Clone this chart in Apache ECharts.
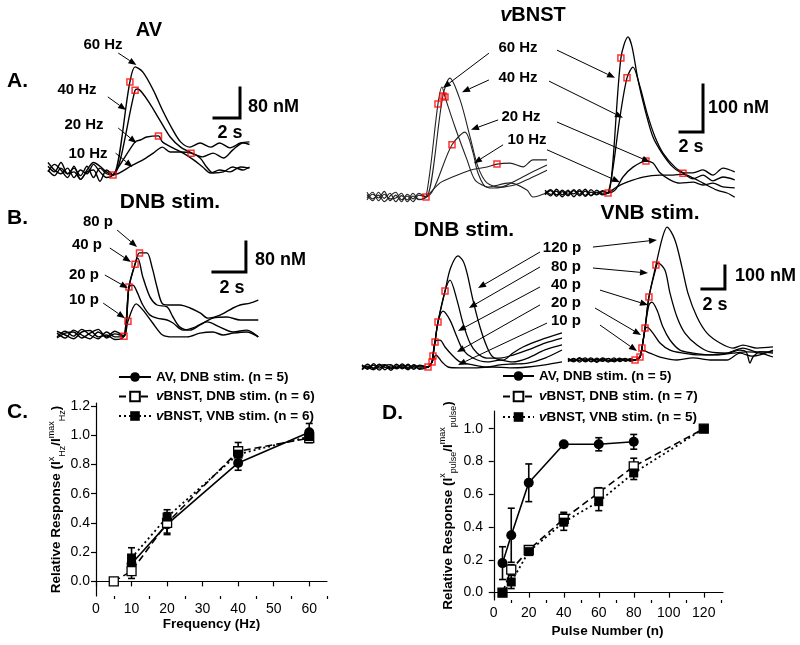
<!DOCTYPE html>
<html><head><meta charset="utf-8">
<script src="https://cdn.jsdelivr.net/npm/echarts@6/dist/echarts.min.js"></script>
<style>html,body{margin:0;padding:0;background:#fff}#c{width:800px;height:645px}</style>
</head><body><div id="c"></div>
<script>
// ---------------- Panel C (frequency) ----------------
const freqAV_C = [10, 20, 40, 60];
const respAV_C = [0.12, 0.39, 0.81, 1.02];
const errAV_C = [0.05, 0.07, 0.05, 0.06];
const freqDNB_C = [5, 10, 20, 40, 60];
const respDNB_C = [0.0, 0.07, 0.40, 0.89, 0.98];
const errDNB_C = [0, 0.05, 0.07, 0.06, 0.03];
const freqVNB_C = [10, 20, 40, 60];
const respVNB_C = [0.16, 0.44, 0.87, 0.99];
const errVNB_C = [0.07, 0.05, 0.05, 0.04];
// ---------------- Panel D (pulse number) ----------------
const pulsesAV_D = [5, 10, 20, 40, 60, 80];
const respAV_D = [0.18, 0.35, 0.67, 0.905, 0.905, 0.92];
const errAV_D = [0.10, 0.165, 0.115, 0.015, 0.04, 0.045];
const pulsesB_D = [5, 10, 20, 40, 60, 80, 120];
const respDNB_D = [0, 0.14, 0.26, 0.45, 0.61, 0.77, 1.0];
const errDNB_D = [0, 0.03, 0.02, 0.04, 0.03, 0.05, 0];
const respVNB_D = [0, 0.065, 0.25, 0.43, 0.555, 0.73, 1.0];
const errVNB_D = [0, 0.04, 0.02, 0.05, 0.055, 0.04, 0];
// ---------------- tick labels ----------------
const ticksFreq = [0, 10, 20, 30, 40, 50, 60];
const minorFreq = [5, 15, 25, 35, 45, 55, 65];
const ticksPulse = [0, 20, 40, 60, 80, 100, 120];
const minorPulse = [10, 30, 50, 70, 90, 110, 130];
const ticksRespC = [0, 0.2, 0.4, 0.6, 0.8, 1.0, 1.2];
const ticksRespD = [0, 0.2, 0.4, 0.6, 0.8, 1.0];
// series names
const nameAV = 'AV, DNB stim. (n = 5)';
const nameDNB_C = 'vBNST, DNB stim. (n = 6)';
const nameVNB_C = 'vBNST, VNB stim. (n = 6)';
const nameDNB_D = 'vBNST, DNB stim. (n = 7)';
const nameVNB_D = 'vBNST, VNB stim. (n = 5)';

// ---------------- traces [time s, dopamine nM] ----------------
// A. AV, frequency
const avHz60 = [[0,10],[0.5,-5],[1,20],[1.5,-10],[2,5],[2.5,-15],[3,10],[3.5,-20],[4,5],[4.5,-10],[5,-13],[6.3,235],[6.7,275],[7.3,261],[8.1,213],[8.8,160],[9.6,107],[10.2,75],[10.9,61],[11.7,72],[12.5,61],[13.2,72],[14,59],[14.8,72],[15.5,75]];
const avHz40 = [[0,-5],[0.5,15],[1,0],[1.5,-20],[2,10],[2.5,-25],[3,-5],[3.5,0],[4,-30],[4.5,0],[5,-13],[6.7,213],[6.9,216],[7.2,208],[7.8,179],[8.6,133],[9.4,88],[10.2,61],[11.1,45],[11.9,35],[12.7,45],[13.5,32],[14.2,53],[15,72],[15.5,68]];
const avHz20 = [[0,20],[0.5,0],[1,-10],[1.5,5],[2,-20],[2.5,0],[3,-10],[3.5,15],[4,-5],[4.5,-20],[5,-13],[6.7,75],[7.1,80],[7.6,88],[8.5,91],[8.8,75],[9.6,59],[10.4,45],[11.2,27],[11.9,8],[12.5,-8],[13.2,0],[14,-5],[14.8,8],[15.5,5]];
const avHz10 = [[0,0],[0.5,-15],[1,5],[1.5,-10],[2,-5],[2.5,-25],[3,0],[3.5,20],[4,10],[4.5,-5],[5,-13],[6.5,13],[7.3,27],[8.1,45],[8.8,61],[9.4,48],[10.2,48],[11,45],[11.7,32],[12.2,8],[12.7,-8],[13.5,-5],[14.2,8],[15,0],[15.5,8]];
const avHzRed = [[5,-13],[6.3,235],[6.7,213],[8.5,91],[11,45]];
// B. AV, pulses
const avP80 = [[0,5],[0.5,-8],[1,13],[1.5,0],[2,-10],[2.5,8],[3,-5],[3.5,10],[4.06,-3],[4.36,128],[4.73,189],[5.0,219],[5.45,219],[5.76,181],[6.06,128],[6.36,85],[6.73,80],[7.45,80],[8.06,72],[8.67,59],[9.15,45],[9.88,53],[10.67,72],[11.1,80],[11.7,85],[12.2,93]];
const avP40 = [[0,-5],[0.5,10],[1,-3],[1.5,15],[2,0],[2.5,-10],[3,8],[3.5,-5],[4.06,-3],[4.36,128],[4.73,189],[4.9,205],[5.2,155],[5.64,101],[6.06,80],[6.67,75],[7.03,48],[7.45,21],[8.06,13],[8.67,27],[9.45,45],[10.3,48],[11.1,40],[12.2,40]];
const avP20 = [[0,10],[0.5,0],[1,-10],[1.5,8],[2,12],[2.5,-5],[3,0],[3.5,-12],[4.06,-3],[4.36,128],[4.6,133],[4.85,115],[5.2,80],[5.64,53],[6.06,45],[6.67,40],[7.03,32],[7.64,13],[8.24,19],[9.1,35],[9.88,21],[10.67,8],[11.5,13],[12.2,-5]];
const avP10 = [[0,-8],[0.5,5],[1,8],[1.5,-8],[2,5],[2.5,15],[3,-8],[3.5,3],[4.06,-3],[4.3,37],[4.8,83],[5.2,67],[5.8,32],[6.4,0],[7.03,-5],[7.9,-5],[8.67,5],[9.45,8],[10.06,0],[10.67,5],[11.5,8],[12.2,-5]];
const avPRed = [[4.06,-3],[4.3,37],[4.36,128],[4.73,189],[5.0,219]];
// A. vBNST, frequency, DNB
const bHzD60 = [[0,5],[0.5,-8],[1,10],[1.5,-3],[2,8],[2.5,-10],[3,3],[3.5,-6],[4,8],[4.5,-5],[5.13,0],[6.17,198],[6.52,234],[6.78,213],[7.65,149],[8.7,79],[9.4,36],[10.43,21],[10.96,19],[11.8,21],[12.9,26],[14.2,40],[15.65,57]];
const bHzD40 = [[0,-6],[0.5,6],[1,-2],[1.5,12],[2,-8],[2.5,4],[3,-10],[3.5,6],[4,-4],[4.5,8],[5.13,0],[6.6,215],[7.2,253],[8.1,206],[8.96,128],[9.65,64],[10.43,30],[11.57,21],[13.04,36],[14.2,51],[15.65,68]];
const bHzD20 = [[0,10],[0.5,-4],[1,4],[1.5,-10],[2,2],[2.5,10],[3,-6],[3.5,2],[4,-10],[4.5,4],[5.13,0],[7.39,111],[8.52,138],[9.22,94],[9.65,51],[10.43,21],[12.43,30],[13.9,15],[14.43,0],[15.65,9]];
const bHzD10 = [[0,-2],[0.5,10],[1,-8],[1.5,6],[2,-4],[2.5,-2],[3,8],[3.5,-10],[4,2],[4.5,-6],[5.13,0],[6.35,30],[7.48,43],[8.96,57],[10.43,64],[11.3,70],[12.43,72],[13.57,64],[14.43,79],[15.65,79]];
const bHzDRed = [[5.13,0],[6.17,198],[6.6,215],[6.78,213],[7.39,111],[11.3,70]];
// A. vBNST, frequency, VNB
const bHzV60 = [[0,3],[0.5,-6],[1,8],[1.5,-4],[2,6],[2.5,-8],[3,4],[3.5,-5],[4,7],[4.5,-3],[5,5],[5.48,0],[6.6,287],[7.22,332],[7.57,311],[8.09,240],[8.7,177],[9.39,119],[10.17,85],[11.13,55],[12,43],[12.87,43],[13.74,49],[14.6,38],[15.48,53],[16.5,45]];
const bHzV40 = [[0,-4],[0.5,5],[1,-7],[1.5,6],[2,-3],[2.5,7],[3,-6],[3.5,4],[4,-5],[4.5,6],[5,-2],[5.48,0],[6.52,162],[7.13,245],[7.65,268],[8.26,226],[8.87,170],[9.57,119],[10.26,85],[11.3,55],[12,43],[12.87,30],[13.74,38],[14.6,26],[15.48,34],[16.5,28]];
const bHzV20 = [[0,6],[0.5,-3],[1,4],[1.5,-8],[2,3],[2.5,-2],[3,7],[3.5,-7],[4,2],[4.5,-4],[5,3],[5.48,0],[6.09,6],[6.78,34],[7.65,55],[8.78,68],[9.39,64],[10,43],[10.87,28],[11.74,21],[12.87,23],[13.74,17],[14.6,21],[15.48,13],[16.5,11]];
const bHzV10 = [[0,-2],[0.5,7],[1,-4],[1.5,3],[2,-6],[2.5,5],[3,-3],[3.5,8],[4,-6],[4.5,2],[5,-4],[5.48,0],[6.26,13],[7.13,23],[8.52,34],[10,38],[11.13,38],[12,40],[12.87,32],[13.74,21],[14.96,6],[15.83,0],[16.5,-9]];
const bHzVRed = [[5.48,0],[6.6,287],[7.13,245],[8.78,68],[12,42]];
// B. vBNST, pulses, DNB
const bPD120 = [[0,10],[0.5,-10],[1,15],[1.5,-5],[2,8],[2.5,-15],[3,5],[3.5,-8],[4,12],[4.5,-5],[5,6],[5.74,0],[6.09,22],[6.17,48],[6.35,109],[6.61,196],[7.22,330],[7.7,430],[8.35,483],[8.8,460],[9.13,409],[9.65,291],[10.26,174],[10.87,87],[11.39,43],[12.26,30],[13.13,61],[14,87],[15.48,117],[17.39,148]];
const bPD80 = [[0,-8],[0.5,12],[1,-5],[1.5,10],[2,-12],[2.5,5],[3,-6],[3.5,14],[4,-4],[4.5,8],[5,-10],[5.74,0],[6.09,22],[6.17,48],[6.35,109],[6.61,196],[7.22,330],[7.65,378],[8.26,291],[8.78,191],[9.39,104],[10,61],[10.87,39],[12,39],[13.13,52],[14.43,74],[15.91,104],[17.39,126]];
const bPD40 = [[0,4],[0.5,-6],[1,8],[1.5,-14],[2,6],[2.5,10],[3,-8],[3.5,2],[4,-12],[4.5,10],[5,0],[5.74,0],[6.09,22],[6.17,48],[6.35,109],[6.61,196],[7.04,243],[7.65,204],[8.26,130],[8.78,74],[9.65,39],[10.87,22],[12,30],[13.13,22],[14.43,39],[15.91,74],[17.39,96]];
const bPD20 = [[0,-12],[0.5,4],[1,-6],[1.5,12],[2,-2],[2.5,-8],[3,12],[3.5,-4],[4,6],[4.5,-10],[5,8],[5.74,0],[6.09,22],[6.17,48],[6.35,109],[6.78,117],[7.22,87],[7.83,52],[8.52,22],[9.65,9],[10.87,0],[12,9],[13.13,13],[14.43,17],[15.91,39],[17.39,74]];
const bPD10 = [[0,6],[0.5,-2],[1,-12],[1.5,4],[2,10],[2.5,-4],[3,-2],[3.5,8],[4,-8],[4.5,2],[5,-6],[5.74,0],[6.09,22],[6.43,52],[6.96,22],[7.48,0],[8.52,-4],[10,-4],[11.39,0],[12.87,-4],[14.43,0],[15.91,9],[17.39,22]];
const bPDRed = [[5.74,0],[6.09,22],[6.17,48],[6.35,109],[6.61,196],[7.22,330]];
// B. vBNST, pulses, VNB
const bPV120 = [[0,8],[0.5,-6],[1,10],[1.5,-8],[2,5],[2.5,-10],[3,6],[3.5,-5],[4,9],[4.5,-7],[5,4],[5.4,-4],[5.83,0],[6.26,13],[6.43,52],[6.7,139],[7.04,274],[7.65,413],[8.2,530],[8.61,578],[9.3,522],[9.91,404],[10.43,291],[11.22,187],[12.09,117],[13.22,74],[14.35,52],[15.22,65],[16.43,52],[17.83,57]];
const bPV80 = [[0,-5],[0.5,7],[1,-9],[1.5,4],[2,-6],[2.5,8],[3,-4],[3.5,6],[4,-8],[4.5,5],[5,-3],[5.4,6],[5.83,0],[6.26,13],[6.43,52],[6.7,139],[7.04,274],[7.65,400],[7.83,422],[8.43,391],[8.87,291],[9.48,187],[10.17,117],[11.22,65],[12.35,35],[13.83,30],[14.96,43],[15.5,35],[15.83,-13],[16.09,13],[16.7,35],[17.83,30]];
const bPV40 = [[0,3],[0.5,-8],[1,6],[1.5,-3],[2,9],[2.5,-5],[3,2],[3.5,-9],[4,4],[4.5,-2],[5,7],[5.4,-5],[5.83,0],[6.26,13],[6.43,52],[6.7,139],[7.04,239],[7.3,252],[7.74,217],[8.26,143],[8.87,87],[9.74,43],[10.87,30],[12.35,22],[13.83,30],[15.22,52],[16.43,35],[17.83,35]];
const bPV20 = [[0,-7],[0.5,4],[1,-2],[1.5,9],[2,-8],[2.5,3],[3,-6],[3.5,7],[4,-3],[4.5,8],[5,-6],[5.4,3],[5.83,0],[6.26,13],[6.43,52],[6.7,130],[6.87,143],[7.39,117],[8,74],[8.87,43],[10,30],[11.48,22],[12.96,22],[14.35,30],[15.57,35],[16.7,30],[17.83,13]];
const bPV10 = [[0,5],[0.5,-3],[1,7],[1.5,-6],[2,2],[2.5,-7],[3,9],[3.5,-2],[4,-6],[4.5,3],[5,5],[5.4,-2],[5.83,0],[6.26,13],[6.43,43],[7.13,30],[8,13],[9.48,0],[10.87,9],[12.35,0],[13.83,0],[14.96,30],[16,17],[16.7,22],[17.83,43]];
const bPVRed = [[5.83,0],[6.26,13],[6.43,52],[6.7,139],[7.04,274],[7.65,413]];
// scale bars (2 s horizontal, nM vertical)
const scaleAVHz = [[12.77,139],[14.77,139],[14.77,219]];   // 2 s / 80 nM
const scaleAVP = [[9.45,168],[11.45,168],[11.45,248]];     // 2 s / 80 nM
const scaleBHz = [[11.74,130],[13.74,130],[13.74,230]];    // 2 s / 100 nM
const scaleBP = [[11.65,309],[13.65,309],[13.65,409]];     // 2 s / 100 nM

// ================= build =================
const FONT = '"Liberation Sans", Arial, Helvetica, sans-serif';
const zip = (xs, ys) => xs.map((x, i) => [x, ys[i]]);

function errSeries(xs, ys, es, xi, yi) {
  return {
    type: 'custom', xAxisIndex: xi, yAxisIndex: yi, silent: true, z: 2,
    data: xs.map((x, i) => [x, ys[i] - es[i], ys[i] + es[i]]),
    renderItem(params, api) {
      const lo = api.coord([api.value(0), api.value(1)]);
      const hi = api.coord([api.value(0), api.value(2)]);
      const w = 3.5, st = {stroke: '#000', lineWidth: 1.6};
      return {type: 'group', children: [
        {type: 'line', shape: {x1: lo[0], y1: lo[1], x2: hi[0], y2: hi[1]}, style: st},
        {type: 'line', shape: {x1: lo[0] - w, y1: lo[1], x2: lo[0] + w, y2: lo[1]}, style: st},
        {type: 'line', shape: {x1: hi[0] - w, y1: hi[1], x2: hi[0] + w, y2: hi[1]}, style: st}
      ]};
    }
  };
}
// annotation arrows: label tail -> trace head, in each trace panel's own units
function arrows(list, g) {
  return {
    type: 'custom', xAxisIndex: g + 2, yAxisIndex: g, silent: true, z: 7,
    data: list.map(a => [a[0][0], a[0][1], a[1][0], a[1][1]]),
    renderItem(params, api) {
      const p1 = api.coord([api.value(0), api.value(1)]);
      const p2 = api.coord([api.value(2), api.value(3)]);
      const dx = p2[0] - p1[0], dy = p2[1] - p1[1], L = Math.hypot(dx, dy) || 1;
      const ux = dx / L, uy = dy / L, hl = 8, hw = 3.2;
      const bx = p2[0] - ux * hl, by = p2[1] - uy * hl;
      return {type: 'group', children: [
        {type: 'line', shape: {x1: p1[0], y1: p1[1], x2: bx, y2: by}, style: {stroke: '#000', lineWidth: 1}},
        {type: 'polygon', shape: {points: [[p2[0], p2[1]], [bx - uy * hw, by + ux * hw], [bx + uy * hw, by - ux * hw]]}, style: {fill: '#000'}}
      ]};
    }
  };
}
const STY = {
  av: {symbol: 'circle', symbolSize: 10, itemStyle: {color: '#000'}, lineStyle: {color: '#000', width: 1.6, type: 'solid'}},
  dnb: {symbol: 'rect', symbolSize: 9, itemStyle: {color: '#fff', borderColor: '#000', borderWidth: 1.3}, lineStyle: {color: '#000', width: 1.6, type: [7, 4]}},
  vnb: {symbol: 'rect', symbolSize: 9, itemStyle: {color: '#000'}, lineStyle: {color: '#000', width: 1.8, type: [2, 3]}}
};
function meanSeries(name, xs, ys, sty, xi, yi) {
  return Object.assign({type: 'line', name, xAxisIndex: xi, yAxisIndex: yi, data: zip(xs, ys), showSymbol: true, z: 4, silent: true}, JSON.parse(JSON.stringify(sty)));
}
function trace(name, data, g, width, color) {
  return {type: 'line', name, xAxisIndex: g + 2, yAxisIndex: g, data, symbol: 'none', smooth: 0.3,
    lineStyle: {color: color || '#000', width: width || 1.3}, silent: true, z: 3};
}
function red(data, g) {
  return {type: 'scatter', xAxisIndex: g + 2, yAxisIndex: g, data, symbol: 'rect', symbolSize: 6, silent: true, z: 6,
    itemStyle: {color: 'rgba(255,255,255,0)', borderColor: '#f00', borderWidth: 1.5}};
}
function bar(data, g) {
  return {type: 'line', xAxisIndex: g + 2, yAxisIndex: g, data, symbol: 'none', silent: true, z: 5,
    lineStyle: {color: '#000', width: 3, cap: 'square', join: 'miter'}};
}
function txt(text, x, y, size, align, rich) {
  return {type: 'text', x, y, z: 10, silent: true, style: {text, fontFamily: FONT, fontWeight: 'bold', fontSize: size,
    fill: '#000', align: align || 'center', verticalAlign: 'middle', rich: rich}};
}
const richV = s => ({i: {fontStyle: 'italic', fontWeight: 'bold', fontSize: s, fontFamily: FONT, fill: '#000'}});

// grids: 0 C, 1 D, 2 AV Hz, 3 AV pulses, 4 vBNST Hz DNB, 5 vBNST Hz VNB, 6 vBNST pulses DNB, 7 vBNST pulses VNB
const grid = [
  {left: 96, top: 403, width: 231, height: 193},
  {left: 492, top: 411, width: 231, height: 189},
  {left: 48, top: 50, width: 201.5, height: 135},
  {left: 57, top: 222.5, width: 206.25, height: 127.5},
  {left: 367, top: 41.9, width: 180, height: 169.2},
  {left: 545, top: 28.5, width: 189.75, height: 178.6},
  {left: 362, top: 238.2, width: 200.1, height: 138},
  {left: 568, top: 217.4, width: 205, height: 151.8}
];
const traceRanges = [
  [0, 15.5, -40, 320], [0, 12.5, -40, 300], [0, 15.65, -30, 330],
  [0, 16.5, -30, 350], [0, 17.4, -40, 560], [0, 17.83, -40, 620]
];
const axLine = {lineStyle: {color: '#000', width: 1.2}};
const lbl = {color: '#000', fontSize: 14, fontFamily: FONT};
const nameSty = {color: '#000', fontSize: 13.5, fontWeight: 'bold', fontFamily: FONT};
const yNameSty = Object.assign({}, nameSty, {lineHeight: 20, rich: {
  sup: {fontSize: 9, fontWeight: 'normal', verticalAlign: 'top', fontFamily: FONT, color: '#000', lineHeight: 9},
  sub: {fontSize: 9, fontWeight: 'normal', verticalAlign: 'bottom', fontFamily: FONT, color: '#000', lineHeight: 9}}});

const xAxis = [
  {type: 'value', gridIndex: 0, min: 0, max: 65, axisLine: axLine, splitLine: {show: false},
   axisTick: {customValues: ticksFreq, length: 5, lineStyle: {color: '#000', width: 1.2}},
   axisLabel: Object.assign({customValues: ticksFreq, margin: 6}, lbl),
   name: 'Frequency (Hz)', nameLocation: 'middle', nameGap: 18, nameTextStyle: nameSty},
  {type: 'value', gridIndex: 1, min: -1, max: 131, axisLine: axLine, splitLine: {show: false},
   axisTick: {customValues: ticksPulse, length: 5, lineStyle: {color: '#000', width: 1.2}},
   axisLabel: Object.assign({customValues: ticksPulse, margin: 6}, lbl),
   name: 'Pulse Number (n)', nameLocation: 'middle', nameGap: 24, nameTextStyle: nameSty},
  {type: 'value', gridIndex: 0, min: 0, max: 65, position: 'bottom', offset: 0, axisLine: {show: false}, splitLine: {show: false},
   axisLabel: {show: false}, axisTick: {customValues: minorFreq, length: 3, lineStyle: {color: '#000', width: 1.2}}},
  {type: 'value', gridIndex: 1, min: -1, max: 131, position: 'bottom', offset: 0, axisLine: {show: false}, splitLine: {show: false},
   axisLabel: {show: false}, axisTick: {customValues: minorPulse, length: 3, lineStyle: {color: '#000', width: 1.2}}}
];
const yAxis = [
  {type: 'value', gridIndex: 0, min: -0.1, max: 1.22, axisLine: Object.assign({show: true}, axLine), splitLine: {show: false},
   axisTick: {show: true, customValues: ticksRespC, length: 5, lineStyle: {color: '#000', width: 1.2}},
   axisLabel: Object.assign({customValues: ticksRespC, margin: 6, formatter: v => v.toFixed(1)}, lbl),
   name: 'Relative Response (I{sup|x}{sub|Hz}/I{sup|max}{sub|Hz})', nameLocation: 'middle', nameGap: 26, nameTextStyle: yNameSty},
  {type: 'value', gridIndex: 1, min: -0.045, max: 1.108, axisLine: Object.assign({show: true}, axLine), splitLine: {show: false},
   axisTick: {show: true, customValues: ticksRespD, length: 5, lineStyle: {color: '#000', width: 1.2}},
   axisLabel: Object.assign({customValues: ticksRespD, margin: 9, formatter: v => v.toFixed(1)}, lbl),
   name: 'Relative Response (I{sup|x}{sub|pulse}/I{sup|max}{sub|pulse})', nameLocation: 'middle', nameGap: 34, nameTextStyle: yNameSty}
];
traceRanges.forEach((r, i) => {
  xAxis.push({type: 'value', gridIndex: i + 2, min: r[0], max: r[1], show: false});
  yAxis.push({type: 'value', gridIndex: i + 2, min: r[2], max: r[3], show: false});
});

const series = [
  errSeries(freqAV_C, respAV_C, errAV_C, 0, 0),
  errSeries(freqDNB_C, respDNB_C, errDNB_C, 0, 0),
  errSeries(freqVNB_C, respVNB_C, errVNB_C, 0, 0),
  meanSeries(nameAV, freqAV_C, respAV_C, STY.av, 0, 0),
  meanSeries(nameDNB_C, freqDNB_C, respDNB_C, STY.dnb, 0, 0),
  meanSeries(nameVNB_C, freqVNB_C, respVNB_C, STY.vnb, 0, 0),
  errSeries(pulsesAV_D, respAV_D, errAV_D, 1, 1),
  errSeries(pulsesB_D, respDNB_D, errDNB_D, 1, 1),
  errSeries(pulsesB_D, respVNB_D, errVNB_D, 1, 1),
  meanSeries(nameAV, pulsesAV_D, respAV_D, STY.av, 1, 1),
  meanSeries(nameDNB_D, pulsesB_D, respDNB_D, STY.dnb, 1, 1),
  meanSeries(nameVNB_D, pulsesB_D, respVNB_D, STY.vnb, 1, 1),
  // A. AV
  trace('AV 60 Hz', avHz60, 2, 1.4), trace('AV 40 Hz', avHz40, 2, 1.4), trace('AV 20 Hz', avHz20, 2, 1.4), trace('AV 10 Hz', avHz10, 2, 1.4),
  arrows([[[5.4,312],[6.8,280]], [[4.6,195],[6.0,160]], [[5.4,112],[6.8,72]], [[5.2,45],[6.5,8]]], 2),
  red(avHzRed, 2), bar(scaleAVHz, 2),
  // B. AV
  trace('AV 80 p', avP80, 3, 1.4), trace('AV 40 p', avP40, 3, 1.4), trace('AV 20 p', avP20, 3, 1.4), trace('AV 10 p', avP10, 3, 1.4),
  arrows([[[3.64,280],[4.85,235]], [[3.2,232],[4.48,195]], [[2.9,160],[4.3,125]], [[2.8,85],[4.12,45]]], 3),
  red(avPRed, 3), bar(scaleAVP, 3),
  // A. vBNST DNB
  trace('vB 60 Hz D', bHzD60, 4, 1.1, '#222'), trace('vB 40 Hz D', bHzD40, 4, 1.1, '#222'),
  trace('vB 20 Hz D', bHzD20, 4, 1.1, '#222'), trace('vB 10 Hz D', bHzD10, 4, 1.1, '#222'),
  arrows([[[10.6,306],[6.6,232]], [[10.6,249],[8.26,223]], [[11.4,164],[9.04,143]], [[11.83,111],[9.3,72]]], 4),
  red(bHzDRed, 4),
  // A. vBNST VNB
  trace('vB 60 Hz V', bHzV60, 5, 1.3), trace('vB 40 Hz V', bHzV40, 5, 1.3), trace('vB 20 Hz V', bHzV20, 5, 1.3), trace('vB 10 Hz V', bHzV10, 5, 1.3),
  arrows([[[1.04,304],[6.09,245]], [[0.35,238],[6.78,160]], [[1.04,151],[9.13,66]], [[0.17,92],[6.52,23]]], 5),
  red(bHzVRed, 5), bar(scaleBHz, 5),
  // B. vBNST DNB
  trace('vB 120 p D', bPD120, 6, 1.3), trace('vB 80 p D', bPD80, 6, 1.3), trace('vB 40 p D', bPD40, 6, 1.3),
  trace('vB 20 p D', bPD20, 6, 1.3), trace('vB 10 p D', bPD10, 6, 1.3),
  arrows([[[15.48,500],[10.09,343]], [[15.48,435],[9.3,257]], [[15.48,348],[8.35,157]], [[15.48,270],[8.26,65]], [[16.09,191],[8.35,9]]], 6),
  red(bPDRed, 6),
  // B. vBNST VNB
  trace('vB 120 p V', bPV120, 7, 1.3), trace('vB 80 p V', bPV80, 7, 1.3), trace('vB 40 p V', bPV40, 7, 1.3),
  trace('vB 20 p V', bPV20, 7, 1.3), trace('vB 10 p V', bPV10, 7, 1.3),
  arrows([[[2.17,491],[7.74,522]], [[2.17,400],[6.96,378]], [[2.78,304],[6.96,239]], [[2.35,226],[6.35,109]], [[2.78,152],[6.0,39]]], 7),
  red(bPVRed, 7), bar(scaleBP, 7)
];

const legFmt = n => n.replace(/^vBNST/, '{i|v}BNST');
const legText = {color: '#000', fontSize: 13.5, fontWeight: 'bold', fontFamily: FONT,
  rich: {i: {fontStyle: 'italic', fontWeight: 'bold', fontSize: 13.5, fontFamily: FONT, color: '#000'}}};
const legend = [
  {left: 118, top: 370, orient: 'vertical', padding: 0, itemWidth: 32, itemHeight: 12, itemGap: 5.5, selectedMode: false,
   data: [nameAV, nameDNB_C, nameVNB_C], formatter: legFmt, textStyle: legText},
  {left: 502, top: 369, orient: 'vertical', padding: 0, itemWidth: 31, itemHeight: 12, itemGap: 6.5, selectedMode: false,
   data: [nameAV, nameDNB_D, nameVNB_D], formatter: legFmt, textStyle: legText}
];

const graphic = [
  txt('A.', 7, 81, 21, 'left'), txt('AV', 149, 30, 20),
  txt('60 Hz', 103, 45, 15), txt('40 Hz', 77, 90, 15), txt('20 Hz', 84, 125, 15), txt('10 Hz', 88, 154, 15),
  txt('80 nM', 248, 107, 18, 'left'), txt('2 s', 230, 133, 18),
  txt('B.', 7, 218, 21, 'left'), txt('DNB stim.', 170, 202, 21),
  txt('80 p', 98, 222, 15), txt('40 p', 87, 245, 15), txt('20 p', 84, 275, 15), txt('10 p', 84, 300, 15),
  txt('80 nM', 255, 260, 18, 'left'), txt('2 s', 232, 288, 18),
  txt('{i|v}BNST', 533, 15, 20, 'center', richV(20)),
  txt('60 Hz', 518, 48, 15), txt('40 Hz', 518, 78, 15), txt('20 Hz', 521, 117, 15), txt('10 Hz', 527, 140, 15),
  txt('100 nM', 708, 108, 18, 'left'), txt('2 s', 691, 147, 18),
  txt('DNB stim.', 464, 230, 21), txt('VNB stim.', 650, 213, 21),
  txt('120 p', 562, 248, 15), txt('80 p', 566, 267, 15), txt('40 p', 566, 285, 15), txt('20 p', 566, 303, 15), txt('10 p', 566, 321, 15),
  txt('100 nM', 735, 276, 18, 'left'), txt('2 s', 715, 305, 18),
  txt('C.', 7, 412, 21, 'left'), txt('D.', 382, 413, 21, 'left')
];

const chart = echarts.init(document.getElementById('c'), null, {renderer: 'canvas'});
chart.setOption({backgroundColor: '#fff', animation: false, grid, xAxis, yAxis, legend, series, graphic});
</script></body></html>
